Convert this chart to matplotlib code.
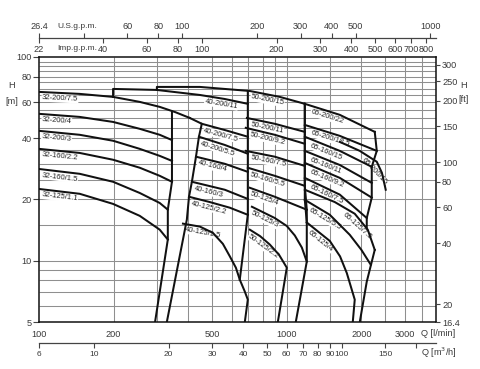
import numpy as np
import matplotlib
matplotlib.use("Agg")
import matplotlib.pyplot as plt
from matplotlib.ticker import FixedLocator, NullLocator, FixedFormatter

plt.rcParams['font.family'] = ['Liberation Sans Narrow', 'Liberation Sans', 'DejaVu Sans']

# ---------------- axis data ----------------
q_range = [100, 4000]          # l/min
h_range = [5, 100]             # m
ft_range = [16.4, 328]         # ft
usgpm_range = [26.4, 1056]     # US g.p.m.
q_tick_values = [100, 200, 500, 1000, 2000, 3000]
h_tick_values = [5, 10, 20, 40, 60, 80, 100]
ft_tick_values = [16.4, 20, 40, 60, 80, 100, 150, 200, 250, 300]
us_gpm_values = [26.4, 40, 60, 80, 100, 200, 300, 400, 500, 1000]
us_gpm_labels = ['26.4', '', '60', '80', '100', '200', '300', '400', '500', '1000']
imp_gpm_values = [22, 40, 60, 80, 100, 200, 300, 400, 500, 600, 700, 800]
imp_gpm_labels = ['22', '40', '60', '80', '100', '200', '300', '400', '500', '600', '700', '800']
m3h_values = [6, 10, 20, 30, 40, 50, 60, 70, 80, 90, 100, 150, 200]
m3h_labels = ['6', '10', '20', '30', '40', '50', '60', '70', '80', '90', '100', '150', '']
grid_q = [200, 300, 400, 500, 600, 700, 800, 900, 1000, 1500, 2000, 2500, 3000, 3500]
grid_h = [6, 7, 8, 9, 10, 15, 20, 25, 30, 35, 40, 45, 50, 55, 60, 65, 70, 75, 80, 85, 90, 95]

L_PER_IMPGAL = 4.546

# ---------------- pump curves (Q l/min, H m) ----------------
col32_names = ['32-200/7.5', '32-200/4', '32-200/3', '32-160/2.2', '32-160/1.5', '32-125/1.1']
col32_q = [[100, 146, 199, 255, 307, 355, 406],
           [100, 146, 199, 255, 307, 344],
           [100, 146, 199, 255, 307, 344],
           [100, 146, 199, 255, 307, 344],
           [100, 146, 199, 255, 307, 331],
           [100, 146, 199, 255, 307, 331]]
col32_h = [[67.4, 65.9, 63.7, 60.2, 56.9, 53.6, 50.2],
           [52.6, 50.8, 48.0, 44.4, 41.5, 39.1],
           [43.4, 41.5, 38.8, 35.4, 32.7, 30.9],
           [35.4, 33.8, 31.3, 28.6, 26.1, 24.4],
           [28.2, 26.7, 24.4, 21.5, 19.2, 17.8],
           [22.5, 21.3, 19.0, 16.6, 14.2, 12.7]]
col32_edge_q = [344, 344, 331, 331, 294]
col32_edge_h = [54.0, 24.4, 17.8, 12.7, 5.0]

col40_names = ['40-200/11', '40-200/7.5', '40-200/5.5', '40-160/4', '40-160/3', '40-125/2.2', '40-125/1.5']
col40_q = [[199, 199, 299, 446, 562, 696],
           [454, 562, 696],
           [442, 562, 696],
           [430, 562, 696],
           [414, 562, 696],
           [403, 489, 589, 696],
           [381, 446, 503, 552, 589, 623, 646, 677, 696, 677]]
col40_h = [[63.7, 69.7, 68.9, 65.1, 62.2, 58.9],
           [47.0, 43.8, 40.6],
           [40.6, 37.0, 33.5],
           [32.4, 29.9, 27.3],
           [24.4, 22.3, 20.1],
           [20.6, 19.4, 18.2, 16.8],
           [15.2, 14.7, 13.7, 12.1, 10.5, 9.24, 8.07, 7.05, 6.44, 5.0]]
col40_left_q = [406, 454, 442, 430, 414, 403, 395, 328]
col40_left_h = [50.2, 47.0, 40.6, 32.4, 24.4, 20.6, 15.9, 5.0]
col40_right_q = [696, 696, 646]
col40_right_h = [68.1, 16.8, 8.07]

col50_names = ['50-200/15', '50-200/11', '50-200/9.2', '50-160/7.5', '50-160/5.5', '50-125/4', '50-125/3', '50-125/2.2']
col50_q = [[299, 299, 446, 709, 937, 1182],
           [690, 894, 1182],
           [683, 894, 1182],
           [683, 894, 1182],
           [696, 894, 1182],
           [709, 894, 1204],
           [723, 894, 1000, 1077, 1150, 1204],
           [709, 780, 854, 930, 1000, 920]]
col50_h = [[68.9, 71.3, 71.3, 68.1, 63.7, 58.9],
           [50.2, 47.0, 42.9],
           [44.9, 41.5, 37.5],
           [34.6, 32.4, 29.2],
           [28.6, 26.1, 23.3],
           [22.8, 20.6, 17.8],
           [18.4, 16.2, 14.8, 13.3, 11.6, 9.9],
           [14.2, 13.2, 12.0, 10.7, 9.24, 5.0]]
col50_right_q = [1182, 1182, 1204, 1204, 1087]
col50_right_h = [58.9, 23.3, 17.8, 9.9, 5.0]

col65_names = ['65-200/22', '65-200/18.5', '65-160/15', '65-160/11', '65-160/9.2', '65-160/7.5',
               '65-125/7.5', '65-125/5.5', '65-125/4', '65-200/15']
col65_q = [[1182, 1636, 2264],
           [1182, 1636, 2307],
           [1182, 1636, 2202],
           [1182, 1636, 2202],
           [1182, 1636, 2202],
           [1182, 1636, 2102],
           [1182, 1562, 1880, 2122, 2264],
           [1182, 1491, 1795, 2000, 2181],
           [1204, 1491, 1640, 1746, 1880, 1846],
           [1636, 1970, 2307, 2420, 2507]]
col65_h = [[58.9, 52.0, 42.9],
           [46.4, 41.0, 34.6],
           [40.6, 34.6, 28.9],
           [34.6, 29.5, 24.1],
           [30.2, 25.5, 20.4],
           [25.5, 21.1, 16.2],
           [22.3, 19.4, 17.0, 14.2, 11.3],
           [19.9, 16.8, 13.4, 11.3, 9.56],
           [15.4, 12.5, 10.5, 8.7, 6.44, 5.0],
           [38.3, 34.6, 30.6, 27.0, 22.3]]
col65_left_q = [1182, 1182, 1204]
col65_left_h = [58.9, 19.9, 15.4]
col65_right_q = [2264, 2307, 2202, 2202, 2102, 2102]
col65_right_h = [42.9, 34.6, 28.9, 20.4, 16.2, 14.4]
col65_bottom_q = [2264, 2102, 1970]
col65_bottom_h = [11.3, 7.89, 5.0]

# label anchor flow per column (style)
label_q_col = {'32': 103, '40': None, '50': 722, '65': 1270}
label_q_special = {'40-200/11': 470, '65-200/15': 2100, '65-125/7.5': 1760}

# ---------------- figure ----------------
W_PX, H_PX = 480, 369
fig = plt.figure(figsize=(W_PX / 100, H_PX / 100), dpi=100)
L = 39 / W_PX
B = (H_PX - 322) / H_PX
W = (436 - 39) / W_PX
HT = (322 - 57) / H_PX
ax = fig.add_axes([L, B, W, HT])
ax.set_xscale('log')
ax.set_yscale('log')
ax.set_xlim(*q_range)
ax.set_ylim(*h_range)

TXT = '#3a3a3a'
GRID = '#8f8f8f'
FS = 6.6

ax.vlines(grid_q, h_range[0], h_range[1], colors=GRID, lw=0.75, zorder=1)
ax.hlines(grid_h, q_range[0], q_range[1], colors=GRID, lw=0.75, zorder=1)

ax.xaxis.set_major_locator(FixedLocator(q_tick_values))
ax.xaxis.set_major_formatter(FixedFormatter([str(v) for v in q_tick_values]))
ax.xaxis.set_minor_locator(NullLocator())
ax.yaxis.set_major_locator(FixedLocator(h_tick_values))
ax.yaxis.set_major_formatter(FixedFormatter([str(v) for v in h_tick_values]))
ax.yaxis.set_minor_locator(NullLocator())
ax.tick_params(axis='x', length=0, pad=5.5, labelsize=FS, labelcolor=TXT)
ax.tick_params(axis='y', length=4.3, width=0.8, pad=1, labelsize=FS, labelcolor=TXT, color='#444')
for s in ax.spines.values():
    s.set_linewidth(1.1)
    s.set_color('#111')

# right axis (ft)
axr = ax.twinx()
axr.set_yscale('log')
axr.set_ylim(*ft_range)
axr.yaxis.set_major_locator(FixedLocator(ft_tick_values))
axr.yaxis.set_major_formatter(FixedFormatter([('%g' % v) for v in ft_tick_values]))
axr.yaxis.set_minor_locator(NullLocator())
axr.tick_params(axis='y', length=3.2, width=0.8, pad=1.2, labelsize=FS, labelcolor=TXT, color='#444')
for s in axr.spines.values():
    s.set_visible(False)

# top flow axis (US gpm up, Imp gpm down)
ytop = (H_PX - 38) / H_PX
axu = fig.add_axes([L, ytop, W, 1e-5])
axu.set_xscale('log')
axu.set_xlim(*usgpm_range)
axu.xaxis.set_major_locator(FixedLocator(us_gpm_values))
axu.xaxis.set_major_formatter(FixedFormatter(us_gpm_labels))
axu.xaxis.set_minor_locator(NullLocator())
axu.xaxis.tick_top()
axu.tick_params(axis='x', direction='out', length=3.8, width=0.8, pad=1.5, labelsize=FS,
                labelcolor=TXT, color='#444')
axu.set_yticks([])
for k, s in axu.spines.items():
    s.set_visible(k == 'top')
axu.spines['top'].set_color('#444')
axu.spines['top'].set_linewidth(0.9)
axu.patch.set_visible(False)

axi = fig.add_axes([L, ytop, W, 1e-5])
axi.set_xscale('log')
axi.set_xlim(q_range[0] / L_PER_IMPGAL, q_range[1] / L_PER_IMPGAL)
axi.xaxis.set_major_locator(FixedLocator(imp_gpm_values))
axi.xaxis.set_major_formatter(FixedFormatter(imp_gpm_labels))
axi.xaxis.set_minor_locator(NullLocator())
axi.tick_params(axis='x', direction='out', length=3.8, width=0.8, pad=1.5, labelsize=FS,
                labelcolor=TXT, color='#444')
axi.set_yticks([])
for s in axi.spines.values():
    s.set_visible(False)
axi.patch.set_visible(False)

# bottom m3/h axis
ybot = (H_PX - 343) / H_PX
axm = fig.add_axes([L, ybot, W, 1e-5])
axm.set_xscale('log')
axm.set_xlim(q_range[0] * 60 / 1000, q_range[1] * 60 / 1000)
axm.xaxis.set_major_locator(FixedLocator(m3h_values))
axm.xaxis.set_major_formatter(FixedFormatter(m3h_labels))
axm.xaxis.set_minor_locator(NullLocator())
axm.tick_params(axis='x', direction='out', length=3.8, width=0.8, pad=1.8, labelsize=6.0,
                labelcolor=TXT, color='#444')
axm.set_yticks([])
for k, s in axm.spines.items():
    s.set_visible(k == 'bottom')
axm.spines['bottom'].set_color('#444')
axm.spines['bottom'].set_linewidth(0.9)
axm.patch.set_visible(False)

# axis captions
def ftxt(x, y, s, fs=FS, **kw):
    fig.text(x / W_PX, 1 - y / H_PX, s, fontsize=fs, color=TXT, va='center', **kw)

ftxt(57, 27, 'U.S.g.p.m.', fs=6.0)
ftxt(57, 49, 'Imp.g.p.m.', fs=6.0)
ftxt(12, 86, 'H', ha='center')
ftxt(12, 102, '[m]', ha='center')
ftxt(464, 86, 'H', ha='center')
ftxt(464, 100, '[ft]', ha='center')
ftxt(421, 333, 'Q [l/min]')
ftxt(421, 353, 'Q [m$^3$/h]')

# ---------------- curves ----------------
LW = 1.45
CK = '#111111'

def draw(q, h):
    ax.plot(q, h, color=CK, lw=LW, solid_joinstyle='round', zorder=4)

def place_label(q, h, name, q_at, gap=2.2):
    pts = ax.transData.transform(np.column_stack([q, h]))
    xs, ys = list(pts[:, 0]), list(pts[:, 1])
    kx, ky = [xs[0]], [ys[0]]
    for x, y in zip(xs[1:], ys[1:]):
        if x > kx[-1] + 0.5:
            kx.append(x); ky.append(y)
        elif len(kx) == 1:
            kx[-1], ky[-1] = x, y
        else:
            break
    kx, ky = np.array(kx), np.array(ky)
    x0 = ax.transData.transform((q_at, 10))[0]
    x0 = min(max(x0, kx[0]), kx[-1] - 1)
    x1 = min(x0 + 14, kx[-1])
    if x1 - x0 < 3:
        x0 = x1 - 3
    y0 = np.interp(x0, kx, ky)
    y1 = np.interp(x1, kx, ky)
    ang = np.arctan2(y1 - y0, x1 - x0)
    px = x0 + gap * np.sin(ang)
    py = y0 - gap * np.cos(ang)
    dq, dh = ax.transData.inverted().transform((px, py))
    ax.text(dq, dh, name, rotation=np.degrees(ang), rotation_mode='anchor',
            ha='left', va='top', fontsize=5.5, color='#222', zorder=3,
            bbox=dict(boxstyle='square,pad=0.05', fc='white', ec='none'))

for names, qs, hs, col in [(col32_names, col32_q, col32_h, '32'),
                           (col40_names, col40_q, col40_h, '40'),
                           (col50_names, col50_q, col50_h, '50'),
                           (col65_names, col65_q, col65_h, '65')]:
    for n, q, h in zip(names, qs, hs):
        draw(q, h)
        if n in label_q_special:
            qa = label_q_special[n]
        elif label_q_col[col] is None:
            qa = q[0] * 1.03
        else:
            qa = max(label_q_col[col], q[0] * 1.02)
        place_label(q, h, n, qa)

for q, h in [(col32_edge_q, col32_edge_h), (col40_left_q, col40_left_h),
             (col40_right_q, col40_right_h), (col50_right_q, col50_right_h),
             (col65_left_q, col65_left_h), (col65_right_q, col65_right_h),
             (col65_bottom_q, col65_bottom_h)]:
    draw(q, h)

fig.savefig('out.png', dpi=100)
